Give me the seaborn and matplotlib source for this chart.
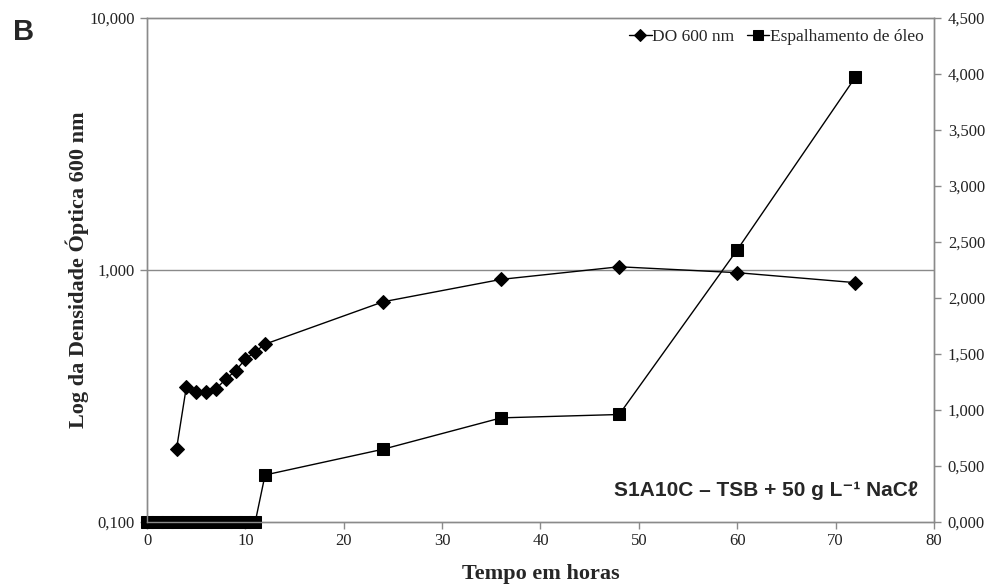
import numpy as np
import pandas as pd
import matplotlib
matplotlib.use("Agg")
import matplotlib.pyplot as plt
import seaborn as sns
from matplotlib.ticker import FixedLocator, FixedFormatter, NullLocator

# Data
horas_do = [3, 4, 5, 6, 7, 8, 9, 10, 11, 12, 24, 36, 48, 60, 72]
do_600 = [0.195, 0.344, 0.328, 0.328, 0.337, 0.369, 0.398, 0.443, 0.474, 0.508,
          0.748, 0.918, 1.03, 0.976, 0.891]

horas_esp = [0, 1, 2, 3, 4, 5, 6, 7, 8, 9, 10, 11, 12, 24, 36, 48, 60, 72]
espalhamento = [0, 0, 0, 0, 0, 0, 0, 0, 0, 0, 0, 0, 0.42, 0.65, 0.93, 0.96, 2.43, 3.97]

left_ticks = [0.1, 1, 10]
left_labels = ["0,100", "1,000", "10,000"]
right_ticks = [0, 0.5, 1, 1.5, 2, 2.5, 3, 3.5, 4, 4.5]
right_labels = ["0,000", "0,500", "1,000", "1,500", "2,000", "2,500",
                "3,000", "3,500", "4,000", "4,500"]
x_ticks = [0, 10, 20, 30, 40, 50, 60, 70, 80]

df_do = pd.DataFrame({"Tempo": horas_do, "DO": do_600})
df_esp = pd.DataFrame({"Tempo": horas_esp, "Esp": espalhamento})

sns.set_style("white")
plt.rcParams["font.family"] = ["Liberation Serif", "DejaVu Serif"]

fig = plt.figure(figsize=(9.94, 5.88), dpi=100)
ax = fig.add_axes([0.1479, 0.1122, 0.7917, 0.8572])
ax.set_yscale("log")
ax2 = ax.twinx()

sns.lineplot(data=df_do, x="Tempo", y="DO", ax=ax, color="black", lw=1,
             marker="D", markersize=7.5, markeredgecolor="black", clip_on=False)
sns.lineplot(data=df_esp, x="Tempo", y="Esp", ax=ax2, color="black", lw=1,
             marker="s", markersize=8.5, markeredgecolor="black", clip_on=False)

ax.set_xlim(0, 80)
ax.set_ylim(0.1, 10)
ax2.set_ylim(0, 4.5)

ax.xaxis.set_major_locator(FixedLocator(x_ticks))
ax.yaxis.set_major_locator(FixedLocator(left_ticks))
ax.yaxis.set_major_formatter(FixedFormatter(left_labels))
ax.yaxis.set_minor_locator(NullLocator())
ax2.yaxis.set_major_locator(FixedLocator(right_ticks))
ax2.yaxis.set_major_formatter(FixedFormatter(right_labels))

ax.axhline(1, color="#8a8a8a", lw=1, zorder=0)

for a in (ax, ax2):
    for s in a.spines.values():
        s.set_color("#8a8a8a")
        s.set_linewidth(1)
    a.tick_params(axis="both", which="major", direction="out", length=5,
                  width=1, color="#8a8a8a", labelsize=12, labelcolor="#222222")
ax.tick_params(axis="x", bottom=True, pad=3)
ax.tick_params(axis="y", left=True, pad=4)
ax2.tick_params(axis="y", right=True, pad=5)

ax.set_xlabel("Tempo em horas", fontsize=16, fontweight="bold", labelpad=11)
ax.set_ylabel("Log da Densidade Óptica 600 nm", fontsize=16, fontweight="bold", labelpad=0)
ax2.set_ylabel("")

h1 = ax.get_lines()[0]
h2 = ax2.get_lines()[0]
ax.legend([h1, h2], ["DO 600 nm", "Espalhamento de óleo"], loc="upper right",
          ncol=2, frameon=False, fontsize=12.5, handlelength=1.3, handletextpad=0.05,
          columnspacing=0.7, markerscale=0.85, bbox_to_anchor=(1.007, 1.01))

ax.text(0.98, 0.063, "S1A10C – TSB + 50 g L⁻¹ NaCℓ", transform=ax.transAxes,
        ha="right", va="center", fontsize=15, fontweight="bold",
        family=["Liberation Sans", "DejaVu Sans"])

fig.text(0.013, 0.945, "B", fontsize=21, fontweight="bold",
         family=["Liberation Sans", "DejaVu Sans"], va="center")

fig.savefig("out.png", dpi=100)
